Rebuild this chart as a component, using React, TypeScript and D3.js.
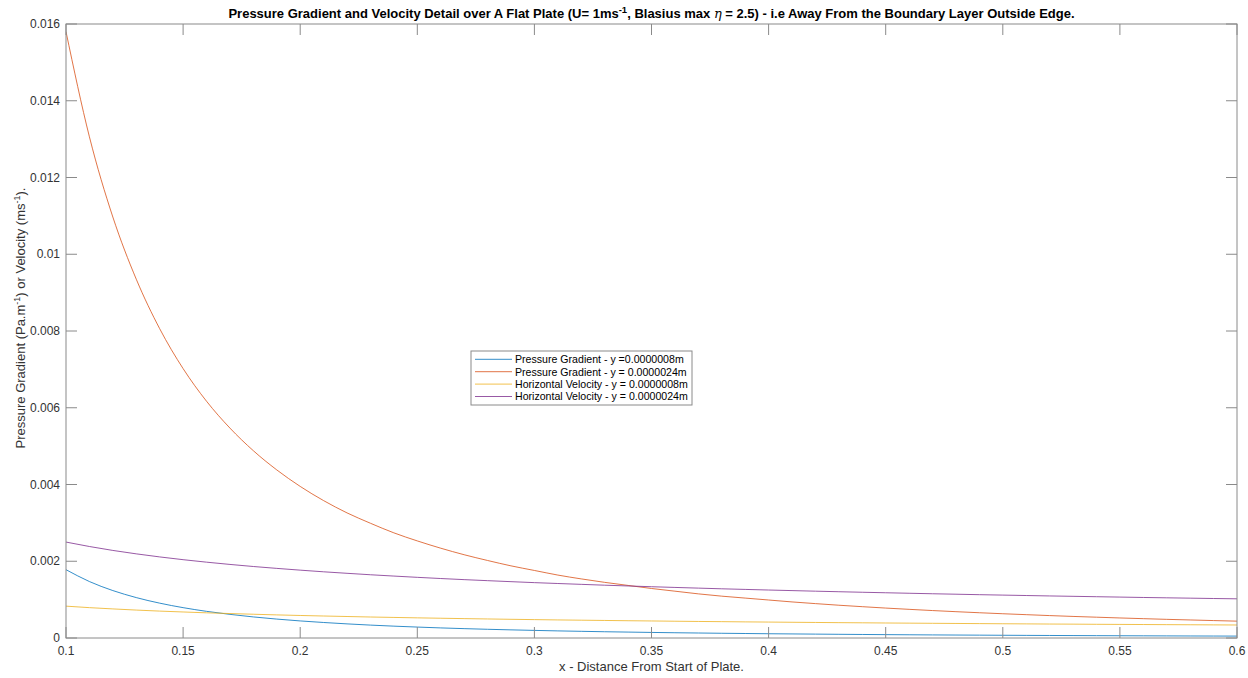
import React from "react";
import * as d3 from "d3";

const xValues = [0.10,0.11,0.12,0.13,0.14,0.15,0.16,0.17,0.18,0.19,0.20,0.21,0.22,0.23,0.24,0.25,0.26,0.27,0.28,0.29,0.30,0.31,0.32,0.33,0.34,0.35,0.36,0.37,0.38,0.39,0.40,0.41,0.42,0.43,0.44,0.45,0.46,0.47,0.48,0.49,0.50,0.51,0.52,0.53,0.54,0.55,0.56,0.57,0.58,0.59,0.60];

const pressureY08 = [0.001780,0.001471,0.001236,0.001053,0.000908,0.000791,0.000695,0.000616,0.000549,0.000493,0.000445,0.000404,0.000368,0.000336,0.000309,0.000285,0.000263,0.000244,0.000227,0.000212,0.000198,0.000185,0.000174,0.000163,0.000154,0.000145,0.000137,0.000130,0.000123,0.000117,0.000111,0.000106,0.000101,0.0000963,0.0000919,0.0000879,0.0000841,0.0000806,0.0000773,0.0000741,0.0000712,0.0000684,0.0000658,0.0000634,0.0000610,0.0000588,0.0000568,0.0000548,0.0000529,0.0000511,0.0000494];

const pressureY24 = [0.01580,0.01306,0.01097,0.00935,0.00806,0.00702,0.00617,0.00547,0.00488,0.00438,0.00395,0.00358,0.00326,0.00299,0.00274,0.00253,0.00234,0.00217,0.00202,0.00188,0.00176,0.00164,0.00154,0.00145,0.00137,0.00129,0.00122,0.00115,0.00109,0.00104,0.00099,0.00094,0.000896,0.000854,0.000816,0.000780,0.000747,0.000715,0.000686,0.000658,0.000632,0.000608,0.000584,0.000562,0.000542,0.000522,0.000504,0.000486,0.000470,0.000454,0.000439];

const velocityY08 = [0.000830,0.000791,0.000758,0.000728,0.000701,0.000678,0.000656,0.000637,0.000619,0.000602,0.000587,0.000573,0.000560,0.000547,0.000536,0.000525,0.000515,0.000505,0.000496,0.000487,0.000479,0.000471,0.000464,0.000457,0.000450,0.000444,0.000437,0.000431,0.000426,0.000420,0.000415,0.000410,0.000405,0.000400,0.000396,0.000391,0.000387,0.000383,0.000379,0.000375,0.000371,0.000368,0.000364,0.000361,0.000357,0.000354,0.000351,0.000348,0.000345,0.000342,0.000339];

const velocityY24 = [0.002500,0.002384,0.002282,0.002193,0.002113,0.002041,0.001976,0.001917,0.001863,0.001814,0.001768,0.001725,0.001686,0.001648,0.001614,0.001581,0.001550,0.001521,0.001494,0.001468,0.001443,0.001420,0.001398,0.001376,0.001356,0.001336,0.001318,0.001300,0.001282,0.001266,0.001250,0.001235,0.001220,0.001206,0.001192,0.001179,0.001166,0.001153,0.001141,0.001129,0.001118,0.001107,0.001096,0.001086,0.001076,0.001066,0.001056,0.001047,0.001038,0.001029,0.001021];

const seriesNames = [
  "Pressure Gradient - y =0.0000008m",
  "Pressure Gradient - y = 0.0000024m",
  "Horizontal Velocity - y = 0.0000008m",
  "Horizontal Velocity - y = 0.0000024m",
];
const seriesColors = ["#0072BD", "#D95319", "#EDB120", "#7E2F8E"];
const seriesValues = [pressureY08, pressureY24, velocityY08, velocityY24];

const xTicks = [0.1, 0.15, 0.2, 0.25, 0.3, 0.35, 0.4, 0.45, 0.5, 0.55, 0.6];
const xTickLabels = ["0.1", "0.15", "0.2", "0.25", "0.3", "0.35", "0.4", "0.45", "0.5", "0.55", "0.6"];
const yTicks = [0, 0.002, 0.004, 0.006, 0.008, 0.01, 0.012, 0.014, 0.016];
const yTickLabels = ["0", "0.002", "0.004", "0.006", "0.008", "0.01", "0.012", "0.014", "0.016"];

const W = 1248;
const H = 678;
const L = 66;
const R = 1237;
const T = 24;
const B = 638;
const FONT = "'Liberation Sans', Arial, Helvetica, sans-serif";
const AXIS = "#8a8a8a";
const TXT = "#333333";

export default function App() {
  const x = d3.scaleLinear().domain([0.1, 0.6]).range([L, R]);
  const y = d3.scaleLinear().domain([0, 0.016]).range([B, T]);
  const line = d3
    .line<number>()
    .x((_, i) => x(xValues[i]))
    .y((d) => y(d))
    .curve(d3.curveMonotoneX);
  const tl = 11;

  const legX = 471;
  const legY = 351;
  const legW = 221;
  const legH = 54;
  const rowH = 12.4;

  return (
    <div style={{ position: "absolute", left: 0, top: 0, width: W, height: H, background: "#fff" }}>
      <svg width={W} height={H} style={{ display: "block", fontFamily: FONT }}>
        <rect x={0} y={0} width={W} height={H} fill="#fff" />
        <clipPath id="plotclip">
          <rect x={L} y={T} width={R - L} height={B - T} />
        </clipPath>
        <g clipPath="url(#plotclip)">
          {seriesValues.map((vals, k) => (
            <path key={k} d={line(vals) || ""} fill="none" stroke={seriesColors[k]} strokeWidth={1} strokeOpacity={0.8} />
          ))}
        </g>
        <rect x={L} y={T} width={R - L} height={B - T} fill="none" stroke={AXIS} strokeWidth={1} />
        {xTicks.map((t, i) => (
          <g key={"xt" + i}>
            <line x1={x(t)} x2={x(t)} y1={B} y2={B - tl} stroke={AXIS} />
            <line x1={x(t)} x2={x(t)} y1={T} y2={T + tl} stroke={AXIS} />
            <text x={x(t)} y={B + 17} textAnchor="middle" fontSize={12} fill={TXT}>
              {xTickLabels[i]}
            </text>
          </g>
        ))}
        {yTicks.map((t, i) => (
          <g key={"yt" + i}>
            <line x1={L} x2={L + tl} y1={y(t)} y2={y(t)} stroke={AXIS} />
            <line x1={R} x2={R - tl} y1={y(t)} y2={y(t)} stroke={AXIS} />
            <text x={L - 6} y={y(t) + 4} textAnchor="end" fontSize={12} fill={TXT}>
              {yTickLabels[i]}
            </text>
          </g>
        ))}
        <text x={(L + R) / 2} y={18} textAnchor="middle" fontSize={13} fontWeight="bold" fill="#000">
          Pressure Gradient and Velocity Detail over A Flat Plate (U= 1ms
          <tspan dy={-5} fontSize={9.5}>-1</tspan>
          <tspan dy={5}>, Blasius max </tspan>
          <tspan fontStyle="italic" fontWeight="normal" fontFamily="'DejaVu Serif', serif">η</tspan>
          <tspan> = 2.5) - i.e Away From the Boundary Layer Outside Edge.</tspan>
        </text>
        <text x={(L + R) / 2} y={671} textAnchor="middle" fontSize={13} fill={TXT}>
          x - Distance From Start of Plate.
        </text>
        <text transform={`translate(25, ${318}) rotate(-90)`} textAnchor="middle" fontSize={13} fill={TXT}>
          Pressure Gradient (Pa.m
          <tspan dy={-5} fontSize={9}>-1</tspan>
          <tspan dy={5}>) or Velocity (ms</tspan>
          <tspan dy={-5} fontSize={9}>-1</tspan>
          <tspan dy={5}>).</tspan>
        </text>
        <rect x={legX} y={legY} width={legW} height={legH} fill="#fff" stroke="#8a8a8a" strokeWidth={1} />
        {seriesNames.map((name, i) => {
          const cy = legY + 8.3 + i * rowH;
          return (
            <g key={"lg" + i}>
              <line x1={legX + 4} x2={legX + 41} y1={cy} y2={cy} stroke={seriesColors[i]} strokeWidth={1} strokeOpacity={0.8} />
              <text x={legX + 44} y={cy + 3.8} fontSize={10.6} fill="#000">
                {name}
              </text>
            </g>
          );
        })}
      </svg>
    </div>
  );
}
